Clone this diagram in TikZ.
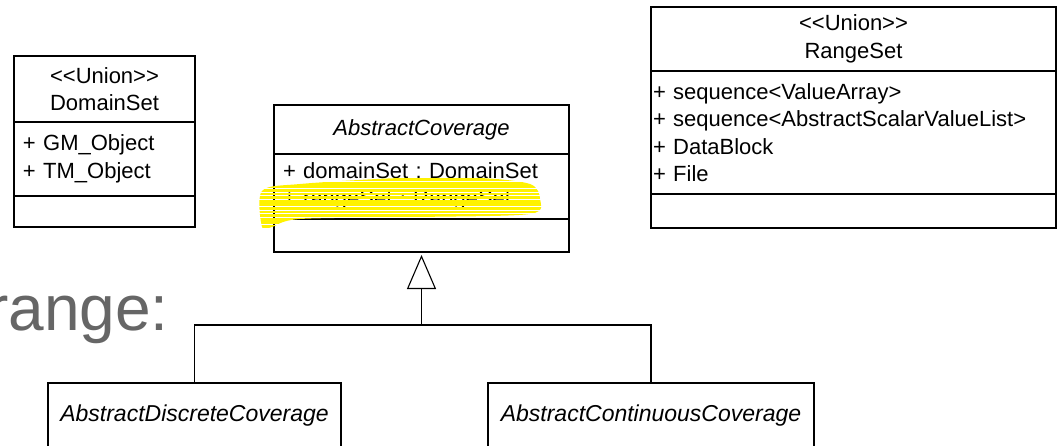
\documentclass[tikz,border=0pt]{standalone}
\usepackage{fontspec}
\setmainfont{Liberation Sans}
\usetikzlibrary{arrows.meta,positioning}
\frenchspacing
\colorlet{surligne}{yellow}
\colorlet{titregris}{black!60}
\newcommand\umlsize{\fontsize{22}{27.5}\selectfont}
\newcommand\stereo[1]{<\kern0pt<#1>\kern0pt>}
\tikzset{
  umlbox/.style={draw,line width=1.1pt,anchor=north west,inner sep=0pt,outer sep=0pt,font=\umlsize},
  umltitle/.style={umlbox,align=center},
  umlattr/.style={umlbox,align=left},
  genline/.style={line width=1.1pt},
}

\begin{document}
\begin{tikzpicture}[x=1pt,y=-1pt]%
\useasboundingbox (0,0) rectangle (1057,446);%%
\clip (0,0) rectangle (1057,446);%%
%%TITRE
\node[font=\fontsize{64}{70}\selectfont,text=titregris,anchor=base east,inner sep=0pt] (titre) at (169,330) {range:}; %%
%%DOMAINSET
\node[umltitle,minimum width=181pt,minimum height=66pt] (dsHead) at (14,56) {\stereo{Union}\\DomainSet}; %%
\node[umlattr,text width=163pt,inner xsep=9pt,minimum height=74pt] (dsAttr) at (dsHead.south west) {+ GM\_Object\\+ TM\_Object}; %%
\node[umlbox,minimum width=181pt,minimum height=31pt] (dsOps) at (dsAttr.south west) {}; %%
%%ABSTRACTCOVERAGE
\node[umltitle,minimum width=295pt,minimum height=49pt] (acHead) at (274,105) {\itshape AbstractCoverage}; %%
\node[umlattr,text width=277pt,inner xsep=9pt,minimum height=65pt] (acAttr) at (acHead.south west) {+ domainSet : DomainSet\\+ rangeSet : RangeSet}; %%
\node[umlbox,minimum width=295pt,minimum height=33pt] (acOps) at (acAttr.south west) {}; %%
%%RANGESET
\node[umltitle,minimum width=405pt,minimum height=64pt] (rsHead) at (651,7) {\stereo{Union}\\RangeSet}; %%
\node[umlattr,text width=401pt,inner xsep=2pt,minimum height=123pt] (rsAttr) at (rsHead.south west) {+ sequence<ValueArray>\\+ sequence<AbstractScalarValueList>\\+ DataBlock\\+ File}; %%
\node[umlbox,minimum width=405pt,minimum height=34pt] (rsOps) at (rsAttr.south west) {}; %%
%%SOUS-CLASSES
\node[umltitle,font=\fontsize{23}{28}\selectfont,minimum width=293pt,minimum height=66pt] (disc) at (48,383) {\itshape AbstractDiscreteCoverage}; %%
\node[umltitle,font=\fontsize{23}{28}\selectfont,minimum width=326pt,minimum height=66pt] (cont) at (488,383) {\itshape AbstractContinuousCoverage}; %%
%%HERITAGE
\coordinate (fork) at (acOps.south |- 0,325);%%
\draw[genline] (disc.north) |- (fork) -| (cont.north);%%
\draw[genline,-{Triangle[open,length=34pt,width=29pt]},shorten >=3pt] (fork) -- (acOps.south);%%
%%SURLIGNAGE
\begin{scope}
\clip plot[smooth cycle] coordinates {(262,191) (300,184) (400,178) (480,178) (530,184) (540,199) (530,214) (420,217) (300,219) (272,227) (262,227)};%%
\foreach \y in {176,179.6,...,230} \draw[surligne,line width=2.9pt] (255,\y) -- (545,\y);%%
\end{scope}
\end{tikzpicture}
\end{document}
